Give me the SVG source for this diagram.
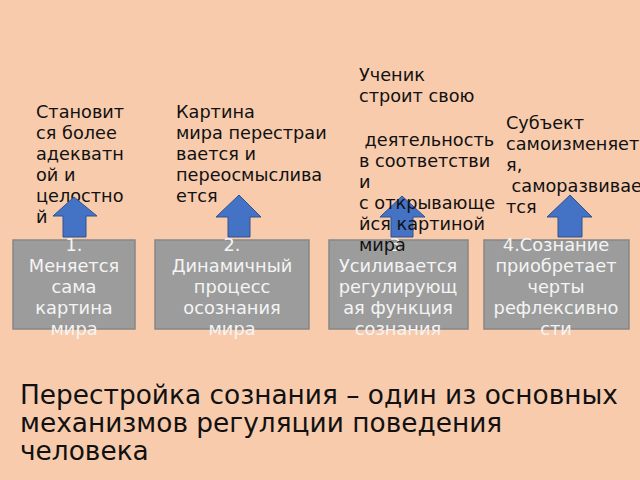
<svg xmlns="http://www.w3.org/2000/svg" width="640" height="480" viewBox="0 0 640 480">
<style>
.bg{fill:#F8CBAD}
.box{fill:#9C9C9C;stroke:#878787;stroke-width:1.5}
.bt{font-family:"DejaVu Sans",Verdana,sans-serif;font-size:17.8px;fill:#F4F4F4;text-anchor:middle}
.tt{font-family:"DejaVu Sans",Verdana,sans-serif;font-size:17.7px;fill:#111}
.arr{fill:#4472C4;stroke:#2F528F;stroke-width:1}
.big{font-family:"DejaVu Sans",Verdana,sans-serif;font-size:26.4px;fill:#111}
</style>
<rect class="bg" x="0" y="0" width="640" height="480"/>

<g id="box1">
<rect class="box" x="13" y="240" width="122" height="89"/>
<text class="bt"><tspan x="74" y="251">1.</tspan><tspan x="74" y="272">Меняется</tspan><tspan x="74" y="293">сама</tspan><tspan x="74" y="314">картина</tspan><tspan x="74" y="335">мира</tspan></text>
</g>
<g id="box2">
<rect class="box" x="155" y="240" width="154" height="89"/>
<text class="bt"><tspan x="232" y="251">2.</tspan><tspan x="232" y="272">Динамичный</tspan><tspan x="232" y="293">процесс</tspan><tspan x="232" y="314">осознания</tspan><tspan x="232" y="335">мира</tspan></text>
</g>
<g id="box3">
<rect class="box" x="329" y="240" width="139" height="89"/>
<text class="bt"><tspan x="398" y="251">3.</tspan><tspan x="398" y="272">Усиливается</tspan><tspan x="398" y="293">регулирующ</tspan><tspan x="398" y="314">ая функция</tspan><tspan x="398" y="335">сознания</tspan></text>
</g>
<g id="box4">
<rect class="box" x="484" y="240" width="145" height="89"/>
<text class="bt"><tspan x="556" y="251">4.Сознание</tspan><tspan x="556" y="272">приобретает</tspan><tspan x="556" y="293">черты</tspan><tspan x="556" y="314">рефлексивно</tspan><tspan x="556" y="335">сти</tspan></text>
</g>

<g id="label1">
<text class="tt"><tspan x="36" y="118">Становит</tspan><tspan x="36" y="139">ся более</tspan><tspan x="36" y="160">адекватн</tspan><tspan x="36" y="181">ой и</tspan><tspan x="36" y="202">целостно</tspan><tspan x="36" y="223">й</tspan></text>
</g>
<g id="label2">
<text class="tt"><tspan x="176" y="118">Картина</tspan><tspan x="176" y="139">мира перестраи</tspan><tspan x="176" y="160">вается и</tspan><tspan x="176" y="181">переосмыслива</tspan><tspan x="176" y="202">ется</tspan></text>
</g>
<g id="label4">
<text class="tt" xml:space="preserve"><tspan x="506" y="129">Субъект</tspan><tspan x="506" y="150">самоизменяет</tspan><tspan x="506" y="171">я,</tspan><tspan x="506" y="192"> саморазвивае</tspan><tspan x="506" y="213">тся</tspan></text>
</g>

<g id="connectors">
<path class="arr" d="M63,237 V216 H53 L74,197 L97,216 H86 V237 Z"/>
<path class="arr" d="M228,237 V217 H216 L239,195 L261,217 H250 V237 Z"/>
<path class="arr" d="M391,237 V217 H380 L402,196 L425,217 H413 V237 Z"/>
<path class="arr" d="M558,237 V217 H547 L570,195 L592,217 H582 V237 Z"/>
</g>

<g id="label3">
<text class="tt" xml:space="preserve"><tspan x="359" y="81">Ученик</tspan><tspan x="359" y="102">строит свою</tspan><tspan x="359" y="146"> деятельность</tspan><tspan x="359" y="167">в соответстви</tspan><tspan x="359" y="188">и</tspan><tspan x="359" y="209">с открывающе</tspan><tspan x="359" y="230">йся картиной</tspan><tspan x="359" y="251">мира</tspan></text>
</g>

<g id="title">
<text class="big"><tspan x="20" y="404">Перестройка сознания – один из основных</tspan><tspan x="20" y="432">механизмов регуляции поведения</tspan><tspan x="20" y="460">человека</tspan></text>
</g>
</svg>
